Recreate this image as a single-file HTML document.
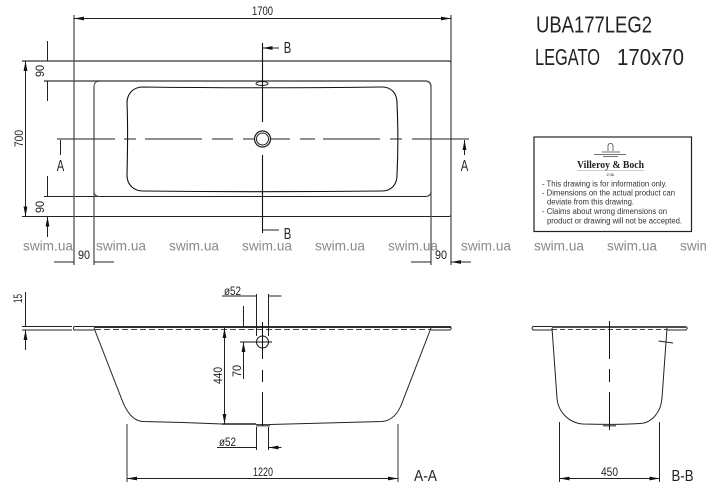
<!DOCTYPE html>
<html><head><meta charset="utf-8"><style>
html,body{margin:0;padding:0;background:#fff;width:706px;height:494px;overflow:hidden}
svg{display:block}
text{font-family:"Liberation Sans",sans-serif;fill:#222}
.d{font-size:12px}
.w{font-size:14px;fill:#8a8a8a}
.n{font-size:8px;fill:#333}
</style></head><body>
<svg width="706" height="494" viewBox="0 0 706 494" xmlns="http://www.w3.org/2000/svg">
<defs>
<marker id="a" viewBox="0 0 10 5" refX="10" refY="2.500" markerWidth="10" markerHeight="5" orient="auto-start-reverse" markerUnits="userSpaceOnUse"><path d="M0 .6L10 2.500L0 4.400z" fill="#111"/></marker>
</defs>

<!-- watermark -->
<text class="w" x="-50" y="250.500" textLength="50" lengthAdjust="spacingAndGlyphs">swim.ua</text><text class="w" x="23" y="250.500" textLength="50" lengthAdjust="spacingAndGlyphs">swim.ua</text><text class="w" x="96" y="250.500" textLength="50" lengthAdjust="spacingAndGlyphs">swim.ua</text><text class="w" x="169" y="250.500" textLength="50" lengthAdjust="spacingAndGlyphs">swim.ua</text><text class="w" x="242" y="250.500" textLength="50" lengthAdjust="spacingAndGlyphs">swim.ua</text><text class="w" x="315" y="250.500" textLength="50" lengthAdjust="spacingAndGlyphs">swim.ua</text><text class="w" x="388" y="250.500" textLength="50" lengthAdjust="spacingAndGlyphs">swim.ua</text><text class="w" x="461" y="250.500" textLength="50" lengthAdjust="spacingAndGlyphs">swim.ua</text><text class="w" x="534" y="250.500" textLength="50" lengthAdjust="spacingAndGlyphs">swim.ua</text><text class="w" x="607" y="250.500" textLength="50" lengthAdjust="spacingAndGlyphs">swim.ua</text><text class="w" x="680" y="250.500" textLength="50" lengthAdjust="spacingAndGlyphs">swim.ua</text>

<!-- plan -->
<g fill="none" stroke="#333" stroke-width="1">
<path d="M22 61H449Q451 61 451 63" stroke="#555" stroke-width="1.500"/>
<path d="M451 214Q451 216.500 449 216.500H22" stroke="#222" stroke-width="1"/>
<path d="M44 81H425Q431 81 431 87" stroke="#555" stroke-width="1.400"/>
<path d="M431 191Q431 196.500 425 196.500H44" stroke="#222" stroke-width="1"/>
<path d="M100 81Q94 81 94 87M94 191Q94 196.500 100 196.500" stroke="#444"/>
<path d="M143 87C220 88 300 88 382 87C391 87 397 93 397 103C398 125 398 155 397 175C397 185 391 191 382 191C300 192 225 192 143 191C134 191 127 185 127 175C127.500 155 128 125 127 103C127 93 134 87 143 87Z" stroke="#111" stroke-width="1.100"/>
<!-- extension -->
<path d="M74 15V265M451 15V265M94 87V265M431 87V265" stroke="#555" stroke-width="1.300"/>
<!-- center -->
<path d="M57 139H115M124 139H136M145 139H202M212 139H233M243 139H254M270 139H290M300 139H315M323 139H380M390 139H402M412 139H469" stroke="#222"/>
<circle cx="262.500" cy="139" r="8" stroke="#222" stroke-width="1.300"/>
<circle cx="262.500" cy="139" r="6" stroke="#222" stroke-width="1"/>
<ellipse cx="262" cy="83.500" rx="6" ry="2" stroke="#222"/>
<path d="M262.500 43V122M262.500 155V233" stroke="#111" stroke-width="1.100"/>
<path d="M262.500 48H279M262.500 230H279" stroke="#222" marker-start="url(#a)"/>
<!-- dims -->
<path d="M74 18.500H451" stroke="#222" marker-start="url(#a)" marker-end="url(#a)"/>
<path d="M25.500 61V216.500" stroke="#222" marker-start="url(#a)" marker-end="url(#a)"/>
<path d="M47.500 41V61M47.500 101V81M47.500 176V196.500M47.500 237V216.500" stroke="#222" marker-end="url(#a)"/>
<path d="M54 262H74M114 262H94M411 262H431M471 262H451" stroke="#222" marker-end="url(#a)"/>
<path d="M60.500 155V140M464.500 155V140" stroke="#222" marker-end="url(#a)"/>
</g>

<text class="d" x="262.500" y="15" text-anchor="middle" textLength="21" lengthAdjust="spacingAndGlyphs">1700</text>
<text class="d" transform="translate(23,138.500) rotate(-90)" text-anchor="middle" font-size="13" textLength="17" lengthAdjust="spacingAndGlyphs">700</text>
<text class="d" transform="translate(44,71) rotate(-90)" text-anchor="middle" textLength="12" lengthAdjust="spacingAndGlyphs">90</text>
<text class="d" transform="translate(44,207) rotate(-90)" text-anchor="middle" textLength="12" lengthAdjust="spacingAndGlyphs">90</text>
<text class="d" x="84" y="259" text-anchor="middle" textLength="12" lengthAdjust="spacingAndGlyphs">90</text>
<text class="d" x="441" y="259" text-anchor="middle" textLength="12" lengthAdjust="spacingAndGlyphs">90</text>
<text x="60.500" y="171" text-anchor="middle" font-size="16" textLength="7.500" lengthAdjust="spacingAndGlyphs">A</text>
<text x="464.500" y="171" text-anchor="middle" font-size="16" textLength="7.500" lengthAdjust="spacingAndGlyphs">A</text>
<text x="287.500" y="53" text-anchor="middle" font-size="16" textLength="7.500" lengthAdjust="spacingAndGlyphs">B</text>
<text x="287.500" y="239" text-anchor="middle" font-size="16" textLength="7.500" lengthAdjust="spacingAndGlyphs">B</text>

<!-- title -->
<text x="536" y="32.500" font-size="23" textLength="116" lengthAdjust="spacingAndGlyphs" fill="#222">UBA177LEG2</text>
<text x="535" y="65" font-size="23" textLength="65" lengthAdjust="spacingAndGlyphs" fill="#222">LEGATO</text>
<text x="617" y="65" font-size="23" textLength="67" lengthAdjust="spacingAndGlyphs" fill="#222">170x70</text>

<!-- logo box -->
<rect x="534" y="137" width="157.500" height="94.500" fill="#fff" stroke="#222" stroke-width="1.200"/>
<g fill="none" stroke="#444" stroke-width=".8"><path d="M608 151V146Q608 143.500 610.500 143.500Q613 143.500 613 146V151"/><path d="M602 152H620M594 154.500H626M603 156.500H618"/></g>
<text x="610.500" y="168" text-anchor="middle" font-size="10" style="font-family:'Liberation Serif',serif;fill:#222;font-weight:bold" textLength="67" lengthAdjust="spacingAndGlyphs">Villeroy &amp; Boch</text>
<path d="M577 170.500H644" stroke="#999" stroke-width=".6"/>
<text x="610" y="176" text-anchor="middle" font-size="3.500" fill="#444">1748</text>
<text class="n" x="542" y="186.500" textLength="125" lengthAdjust="spacingAndGlyphs">- This drawing is for information only.</text>
<text class="n" x="542" y="195.500" textLength="133" lengthAdjust="spacingAndGlyphs">- Dimensions on the actual product can</text>
<text class="n" x="547" y="204.500" textLength="87" lengthAdjust="spacingAndGlyphs">deviate from this drawing.</text>
<text class="n" x="542" y="214" textLength="125" lengthAdjust="spacingAndGlyphs">- Claims about wrong dimensions on</text>
<text class="n" x="547" y="223.500" textLength="135" lengthAdjust="spacingAndGlyphs">product or drawing will not be accepted.</text>

<!-- section A-A -->
<g fill="none" stroke="#222" stroke-width="1">
<path d="M22 326.500H72M22 330H72"/>
<path d="M94 327H451" stroke="#111" stroke-width="1.700"/>
<path d="M74 326.500H94M74 326.500Q73 328 74 330H94M431 330H450Q452.500 328 450 326.500"/>
<path d="M95 329.500H431" stroke="#444" stroke-dasharray="6 3"/>
<path d="M94 328L122 400C127 413 134 421 143 421.500C170 422 200 423 222 424"/>
<path d="M222 424H256" stroke-width="1.600"/>
<path d="M256 424.500H270L382 421.500C391 421 398 414 402 403L431 328"/>
<path d="M256 425.500H270" stroke="#666" stroke-width="2"/>
<circle cx="262.500" cy="342" r="6" stroke="#111"/>
<path d="M240 342H272M262.500 322V359M262.500 370V382M262.500 392V426" stroke="#111"/>
<path d="M256.500 294V336M268.500 294V336M256.500 427V450M268.500 427V450"/>
<path d="M222 296H256.500M281.500 296H268.500M217 447.500H256.500M281.500 447.500H268.500" stroke-width=".9" marker-end="url(#a)"/>
<path d="M25.500 292V326.500M25.500 350V330" marker-end="url(#a)"/>
<path d="M224.500 328V424" marker-start="url(#a)" marker-end="url(#a)"/>
<path d="M243.500 306V327M243.500 379V342" marker-end="url(#a)"/>
<path d="M127 424V482M398 424V482" stroke="#444" stroke-width="1.100"/>
<path d="M127 478.500H398" marker-start="url(#a)" marker-end="url(#a)"/>
</g>
<text class="d" transform="translate(22,298.500) rotate(-90)" text-anchor="middle" font-size="10" textLength="9" lengthAdjust="spacingAndGlyphs">15</text>
<text class="d" x="232.500" y="295" text-anchor="middle" textLength="17" lengthAdjust="spacingAndGlyphs">ø52</text>
<text class="d" x="227.500" y="446" text-anchor="middle" textLength="17" lengthAdjust="spacingAndGlyphs">ø52</text>
<text class="d" transform="translate(222,375.500) rotate(-90)" text-anchor="middle" textLength="17" lengthAdjust="spacingAndGlyphs">440</text>
<text class="d" transform="translate(241,371) rotate(-90)" text-anchor="middle" textLength="12" lengthAdjust="spacingAndGlyphs">70</text>
<text class="d" x="263" y="476" text-anchor="middle" textLength="20" lengthAdjust="spacingAndGlyphs">1220</text>
<text x="425.500" y="481" text-anchor="middle" font-size="16" textLength="23" lengthAdjust="spacingAndGlyphs">A-A</text>

<!-- section B-B -->
<g fill="none" stroke="#222" stroke-width="1">
<path d="M552 327H686" stroke="#111" stroke-width="1.600"/>
<path d="M552 326.500H533Q531 328 533 330H552M667 330H686Q688.500 328 686 326.500"/>
<path d="M552 329.500H667" stroke="#444" stroke-dasharray="5 3"/>
<path d="M552 328L557 398C558 412 569 423 583 424C600 424.500 622 424.500 640 423.500C652 423 661 412 662 398L667 328"/>
<path d="M603 425.500H616" stroke="#666" stroke-width="2"/>
<path d="M609.500 321V359M609.500 369V382M609.500 392V430" stroke="#111"/>
<path d="M658.500 341L673 343"/>
<path d="M559.500 422V482M659.500 422V482"/>
<path d="M559.500 478.500H659.500" marker-start="url(#a)" marker-end="url(#a)"/>
</g>
<text class="d" x="609.500" y="476" text-anchor="middle" textLength="17" lengthAdjust="spacingAndGlyphs">450</text>
<text x="682.500" y="481" text-anchor="middle" font-size="16" textLength="22" lengthAdjust="spacingAndGlyphs">B-B</text>
</svg>
</body></html>
